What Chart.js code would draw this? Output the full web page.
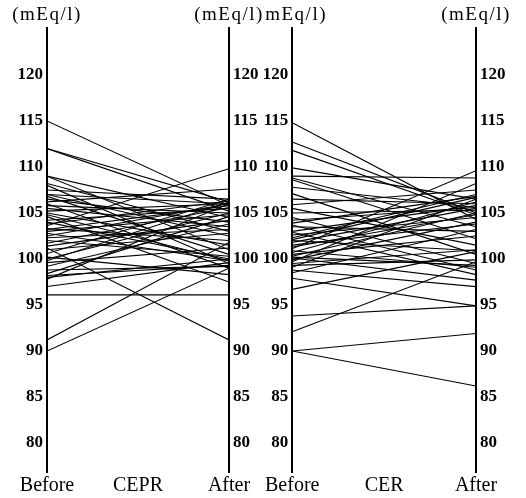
<!DOCTYPE html>
<html><head><meta charset="utf-8">
<script src="https://cdn.jsdelivr.net/npm/chart.js@4/dist/chart.umd.min.js"></script>
<style>
html,body{margin:0;padding:0;background:#fff;}
#w{position:relative;width:526px;height:498px;}
.p{position:absolute;top:0;width:263px;height:498px;}
</style></head>
<body><div id="w">
<div class="p" style="left:0"><canvas id="c1" width="263" height="498"></canvas></div>
<div class="p" style="left:263px"><canvas id="c2" width="263" height="498"></canvas></div>
</div>
<script>
const unitLabel = '(mEq/l)';
const yTicks = [80, 85, 90, 95, 100, 105, 110, 115, 120];
const ceprLabels = ['Before', 'CEPR', 'After'];
const cerLabels = ['Before', 'CER', 'After'];

const ceprBefore = [115, 112, 112, 109, 109, 108.2, 108, 107.5, 107, 107, 106.8, 106.5, 106.2, 106, 105.8, 105.5, 105.2, 105, 104.8, 104.6, 104.2, 104, 103.8, 103.6, 103.3, 103.2, 103, 102.8, 102.5, 102.3, 102, 101.7, 101.4, 101.2, 101, 100.6, 100.2, 100, 99.8, 99.6, 99.2, 98.8, 98.4, 98.2, 98, 97.8, 97, 96.1, 91.2, 90];
const ceprAfter  = [105.8, 106.2, 105.2, 101, 104.5, 103, 99.5, 106.5, 102.5, 106, 100.5, 104, 107.6, 99, 105, 103.5, 106, 101.5, 99.8, 97.5, 105.5, 100, 106.3, 109.8, 102, 105.8, 104.8, 99.8, 106, 103.2, 100.3, 105.6, 104.2, 91.2, 102.8, 106.5, 98.3, 105, 106.2, 101.2, 103.8, 99.2, 104.6, 99.3, 100, 106, 99.6, 96.1, 101.8, 99];

const cerBefore = [114.8, 112.7, 111.8, 109.9, 109, 108.8, 108.6, 107.8, 107.1, 106.5, 105.9, 105.5, 105, 104.5, 104.2, 103.9, 103.7, 103.5, 103, 102.9, 102.6, 102.3, 102.1, 102, 101.8, 101.5, 101.3, 101.1, 100.9, 100.7, 100.5, 100.3, 100.2, 100.1, 99.9, 99.7, 99.5, 99.3, 99.1, 98.8, 98.5, 97.9, 96.7, 93.8, 92.1, 90, 90];
const cerAfter  = [104.3, 105, 104.8, 106.5, 108.8, 103.5, 102.2, 105.6, 100.5, 106, 107.5, 101.5, 105.3, 99.5, 105.6, 106.8, 98.8, 103, 105.8, 98.3, 104.5, 107, 106.7, 100.9, 105.5, 103.8, 104.8, 109.6, 99.1, 106.2, 102.5, 105, 99.3, 97.7, 104, 108.2, 101, 99.9, 106.5, 97, 103.2, 94.9, 100.8, 94.9, 99.7, 91.9, 86.2];

const FONT = "'Liberation Serif', 'DejaVu Serif', serif";

const headPlugin = {
  id: 'head',
  afterDraw(chart) {
    const ctx = chart.ctx, a = chart.chartArea;
    ctx.save();
    ctx.fillStyle = '#000';
    ctx.font = '19px ' + FONT;
    if ('letterSpacing' in ctx) ctx.letterSpacing = '1.5px';
    ctx.textAlign = 'center';
    ctx.textBaseline = 'middle';
    ctx.fillText(unitLabel, a.left, 15);
    ctx.fillText(unitLabel, a.right, 15);
    ctx.restore();
  }
};

function makeChart(id, before, after, labels, leftW, rightW) {
  const datasets = before.map((b, i) => ({
    data: [{x: 0, y: b}, {x: 1, y: after[i]}],
    yAxisID: 'yl',
    borderColor: '#000', borderWidth: 1.1, pointRadius: 0, fill: false, tension: 0
  }));
  const yCommon = {
    type: 'linear', min: 76.85, max: 125.1,
    grid: {display: false, drawTicks: false},
    border: {display: true, color: '#000', width: 2},
    afterBuildTicks: s => { s.ticks = yTicks.map(v => ({value: v})); },
    ticks: {color: '#000', font: {family: FONT, size: 17, weight: 'bold'}, padding: 4}
  };
  return new Chart(document.getElementById(id), {
    type: 'line',
    data: {datasets},
    plugins: [headPlugin],
    options: {
      responsive: false, animation: false, devicePixelRatio: 1,
      layout: {padding: {top: 28, left: 0, right: 0, bottom: 0}},
      plugins: {legend: {display: false}, tooltip: {enabled: false}},
      scales: {
        x: {
          type: 'linear', min: 0, max: 1,
          grid: {display: false, drawTicks: false},
          border: {display: false},
          afterBuildTicks: s => { s.ticks = [0, 0.5, 1].map(v => ({value: v})); },
          afterFit: s => { s.height = 26; },
          ticks: {color: '#000', font: {family: FONT, size: 20}, padding: 2, maxRotation: 0,
            callback: (v) => labels[Math.round(v * 2)]}
        },
        y: {display: false},
        yl: Object.assign({}, yCommon, {position: 'left', afterFit: s => { s.width = leftW; }}),
        yr: Object.assign({}, yCommon, {position: 'right', afterFit: s => { s.width = rightW; }})
      }
    }
  });
}

makeChart('c1', ceprBefore, ceprAfter, ceprLabels, 47, 34);
makeChart('c2', cerBefore, cerAfter, cerLabels, 29, 50);
</script>
</body></html>
